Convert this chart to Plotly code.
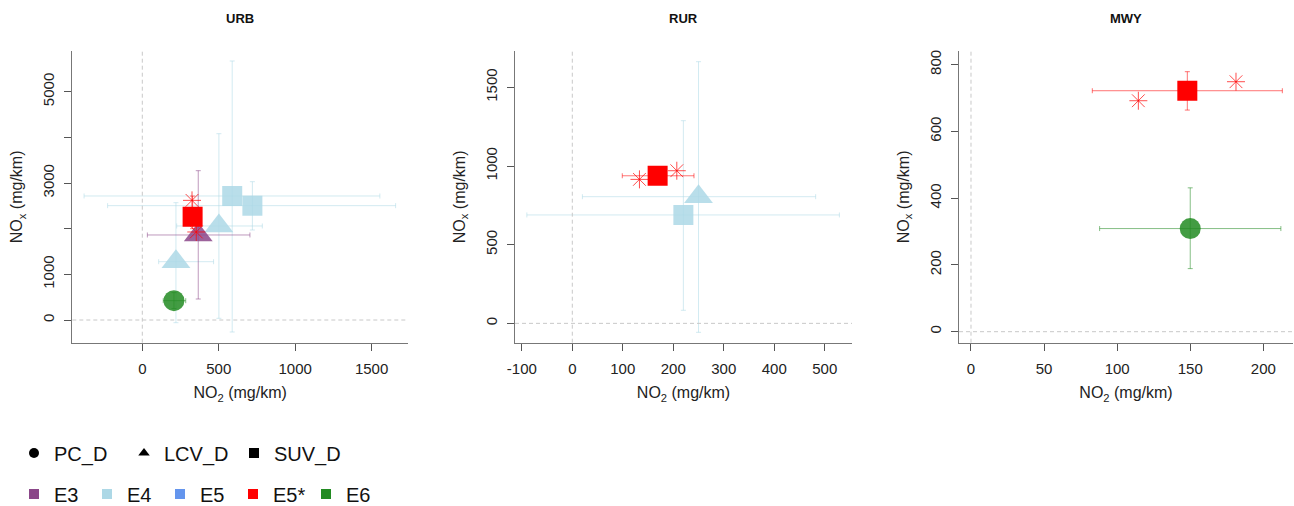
import plotly.graph_objects as go

# ---- data: NO2 vs NOx emission factors (mg/km) per road type ----
panels = ["URB", "RUR", "MWY"]

pt_panel = ["URB", "URB", "URB", "URB", "URB", "URB", "URB",
            "RUR", "RUR", "RUR",
            "MWY", "MWY"]
pt_euro = ["E4", "E4", "E4", "E4", "E3", "E6", "E5*",
           "E4", "E4", "E5*",
           "E6", "E5*"]
pt_vehicle = ["LCV_D", "LCV_D", "SUV_D", "SUV_D", "LCV_D", "PC_D", "SUV_D",
              "LCV_D", "SUV_D", "SUV_D",
              "PC_D", "SUV_D"]
no2 = [220, 501, 588, 720, 366, 207, 329,
       250, 220, 169,
       150, 148]
no2_lo = [107, 225, -381, -227, 33, 137, 285,
          20, -90, 99,
          88, 83]
no2_hi = [466, 785, 1554, 1657, 704, 284, 375,
          482, 529, 241,
          212, 213]
nox = [1277, 2059, 2716, 2504, 1862, 423, 2262,
       805, 689, 938,
       309, 722]
nox_lo = [-59, 37, -263, 1971, 460, 250, 2000,
          -57, 83, 905,
          189, 664]
nox_hi = [2569, 4080, 5672, 3029, 3270, 600, 2714,
          1663, 1288, 970,
          431, 779]

# individual E5* vehicles (asterisks)
star_panel = ["URB", "URB", "RUR", "RUR", "MWY", "MWY"]
star_no2 = [325, 353, 133, 207, 114.5, 181.3]
star_nox = [2620, 1928, 915, 970, 692, 749]

# legend entries
vehicle_names = ["PC_D", "LCV_D", "SUV_D"]
euro_names = ["E3", "E4", "E5", "E5*", "E6"]

# axis ticks per panel
x_ticks = {"URB": [0, 500, 1000, 1500],
           "RUR": [-100, 0, 100, 200, 300, 400, 500],
           "MWY": [0, 50, 100, 150, 200]}
x_ticklabels = {"URB": ["0", "500", "1000", "1500"],
                "RUR": ["-100", "0", "100", "200", "300", "400", "500"],
                "MWY": ["0", "50", "100", "150", "200"]}
y_ticks = {"URB": [0, 1000, 2000, 3000, 4000, 5000],
           "RUR": [0, 500, 1000, 1500],
           "MWY": [0, 200, 400, 600, 800]}
y_ticklabels = {"URB": ["0", "1000", "", "3000", "", "5000"],
                "RUR": ["0", "500", "1000", "1500"],
                "MWY": ["0", "200", "400", "600", "800"]}
x_range = {"URB": [-458, 1738], "RUR": [-113.5, 554], "MWY": [-8.2, 220.3]}
y_range = {"URB": [-497, 5891], "RUR": [-123, 1731], "MWY": [-33, 841]}

# ---- styling ----
euro_rgb = {"E3": (139, 71, 137), "E4": (173, 216, 230), "E5": (100, 149, 237),
            "E5*": (255, 0, 0), "E6": (34, 139, 34)}
marker_alpha = {"E3": 0.85, "E4": 0.85, "E5": 0.85, "E5*": 1.0, "E6": 0.85}
symbol_of = {"PC_D": "circle", "LCV_D": "triangle-up", "SUV_D": "square"}
size_of = {"PC_D": 21, "LCV_D": 25, "SUV_D": 20}


def rgba(rgb, a):
    return "rgba(%d,%d,%d,%.2f)" % (rgb[0], rgb[1], rgb[2], a)


W, H = 1294, 506
x_px = {"URB": (72.3, 408), "RUR": (515, 852), "MWY": (959, 1293)}
y_px = (51, 342.7)
FONT = "Liberation Sans, Arial, sans-serif"

fig = go.Figure()
axis_id = {p: ("" if i == 0 else str(i + 1)) for i, p in enumerate(panels)}

for i in range(len(no2)):
    p = pt_panel[i]
    e = pt_euro[i]
    v = pt_vehicle[i]
    rgb = euro_rgb[e]
    fig.add_trace(go.Scatter(
        x=[no2[i]], y=[nox[i]], mode="markers",
        xaxis="x" + axis_id[p], yaxis="y" + axis_id[p],
        marker=dict(symbol=symbol_of[v], size=size_of[v],
                    color=rgba(rgb, marker_alpha[e]), line=dict(width=0)),
        error_x=dict(type="data", symmetric=False,
                     array=[no2_hi[i] - no2[i]], arrayminus=[no2[i] - no2_lo[i]],
                     color=rgba(rgb, 0.55), thickness=1, width=2.5),
        error_y=dict(type="data", symmetric=False,
                     array=[nox_hi[i] - nox[i]], arrayminus=[nox[i] - nox_lo[i]],
                     color=rgba(rgb, 0.55), thickness=1, width=2.5),
        showlegend=False, hoverinfo="skip"))

for p in panels:
    xs = [x for x, q in zip(star_no2, star_panel) if q == p]
    ys = [y for y, q in zip(star_nox, star_panel) if q == p]
    fig.add_trace(go.Scatter(
        x=xs, y=ys, mode="markers",
        xaxis="x" + axis_id[p], yaxis="y" + axis_id[p],
        marker=dict(symbol="asterisk-open", size=15,
                    color=rgba(euro_rgb["E5*"], 0.7),
                    line=dict(width=1, color=rgba(euro_rgb["E5*"], 0.7))),
        showlegend=False, hoverinfo="skip"))

# legend rows
for v in vehicle_names:
    fig.add_trace(go.Scatter(
        x=[None], y=[None], mode="markers", name=v, legend="legend",
        marker=dict(symbol=symbol_of[v], size=10, color="black")))
for e in euro_names:
    fig.add_trace(go.Scatter(
        x=[None], y=[None], mode="markers", name=e, legend="legend2",
        marker=dict(symbol="square", size=10, color=rgba(euro_rgb[e], 1.0))))

layout = dict(width=W, height=H,
              margin=dict(l=0, r=0, t=0, b=0, autoexpand=False),
              plot_bgcolor="white", paper_bgcolor="white",
              font=dict(family=FONT, color="#111"))

shapes = []
annotations = []
ydom = [1 - y_px[1] / H, 1 - y_px[0] / H]
for p in panels:
    k = axis_id[p]
    x0, x1 = x_px[p]
    layout["xaxis" + k] = dict(
        domain=[x0 / W, x1 / W], range=x_range[p], anchor="y" + k,
        automargin=False,
        tickmode="array", tickvals=x_ticks[p], ticktext=x_ticklabels[p],
        showgrid=False, zeroline=False, showline=True, linecolor="#777",
        linewidth=1, ticks="outside", ticklen=7, tickcolor="#555",
        tickfont=dict(size=15, color="#222"), ticklabelstandoff=5,
        title=dict(text="NO<sub>2</sub> (mg/km)", font=dict(size=16, color="#222"),
                   standoff=11))
    layout["yaxis" + k] = dict(
        domain=ydom, range=y_range[p], anchor="x" + k,
        automargin=False,
        tickmode="array", tickvals=y_ticks[p], ticktext=y_ticklabels[p],
        tickangle=-90,
        showgrid=False, zeroline=False, showline=True, linecolor="#777",
        linewidth=1, ticks="outside", ticklen=7, tickcolor="#555",
        tickfont=dict(size=15, color="#222"), ticklabelstandoff=4,
        title=dict(text="NO<sub>x</sub> (mg/km)", font=dict(size=16, color="#222"),
                   standoff=13))
    # dashed zero reference lines
    shapes.append(dict(type="line", xref="x" + k, yref="y" + k + " domain",
                       x0=0, x1=0, y0=0, y1=1,
                       line=dict(color="#c8c8c8", width=1, dash="4px,3px")))
    shapes.append(dict(type="line", xref="x" + k + " domain", yref="y" + k,
                       x0=0, x1=1, y0=0, y1=0,
                       line=dict(color="#c8c8c8", width=1, dash="4px,3px")))
    annotations.append(dict(text="<b>%s</b>" % p, xref="paper", yref="paper",
                            x=(x0 + x1) / 2 / W, y=1 - 18 / H,
                            showarrow=False, xanchor="center", yanchor="middle",
                            font=dict(size=13, color="#111", family=FONT)))

layout["shapes"] = shapes
layout["annotations"] = annotations
layout["legend"] = dict(orientation="h", x=14 / W, xanchor="left",
                        y=1 - 453 / H, yanchor="middle",
                        entrywidth=65, entrywidthmode="pixels",
                        font=dict(size=20, color="#111"), bgcolor="rgba(0,0,0,0)")
layout["legend2"] = dict(orientation="h", x=14 / W, xanchor="left",
                         y=1 - 494 / H, yanchor="middle",
                         entrywidth=28, entrywidthmode="pixels",
                         font=dict(size=20, color="#111"), bgcolor="rgba(0,0,0,0)")
fig.update_layout(**layout)

fig.write_html("out.html")
